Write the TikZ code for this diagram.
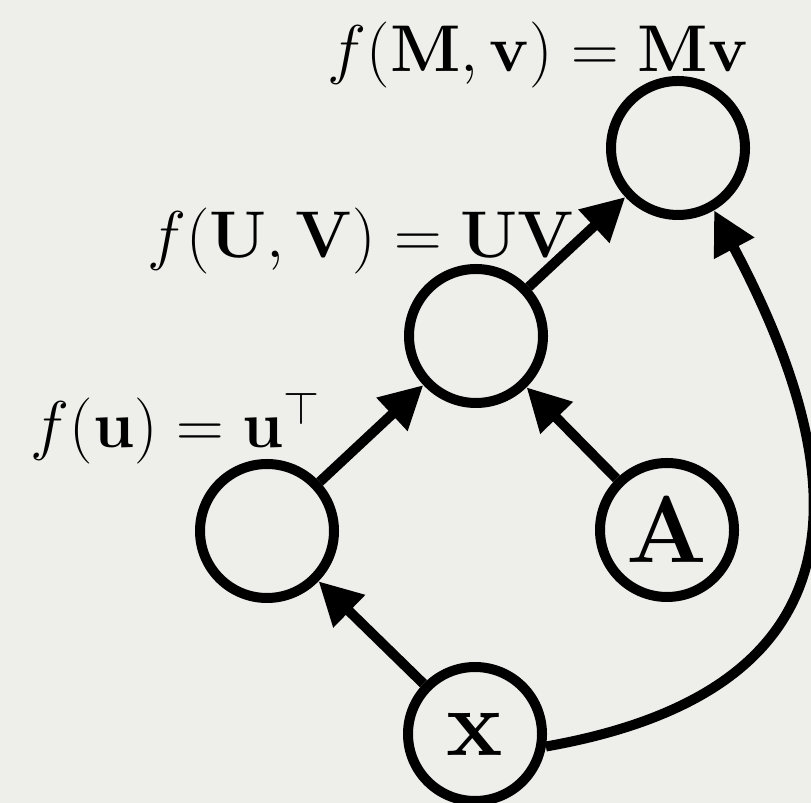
\RequirePackage{fix-cm}
\documentclass[tikz,border=0pt]{standalone}
\usepackage{amsmath,amssymb}
\usepackage{tikz}
\usetikzlibrary{arrows.meta,positioning}
\definecolor{gpaper}{HTML}{EEEEEA}
\definecolor{gink}{HTML}{000000}
\tikzset{
  nd/.style={circle, draw=gink, line width=1mm, minimum size=13.4mm, inner sep=0pt, font=\fontsize{27}{32}\selectfont},
  arr/.style={-{Triangle[length=4.3mm, width=4.3mm]}, line width=1mm, color=gink},
  lbl/.style={inner sep=0pt, anchor=base, font=\fontsize{18.8}{22}\selectfont},
}

\begin{document}
\begin{tikzpicture}[x=0.1mm, y=0.1mm]
  \fill[gpaper] (0,0) rectangle (811,-803);
  \useasboundingbox (0,0) rectangle (811,-803);
  % nodes
  \node[nd] (mv) at (678,-148) {};
  \node[nd] (uv) at (476,-336) {};
  \node[nd] (ut) at (267,-531) {};
  \node[nd] (a) at (667,-530) {$\mathbf{A}$};
  \node[nd] (x) at (475,-734) {$\mathbf{x}$};
  % labels
  \node[lbl] (lmv) at (538,-72) {$f(\mathbf{M},\mathbf{v}) = \mathbf{M}\mathbf{v}$};
  \node[lbl] (luv) at (361,-258) {$f(\mathbf{U},\mathbf{V}) = \mathbf{U}\mathbf{V}$};
  \node[lbl] (lut) at (176,-448) {$f(\mathbf{u}) = \mathbf{u}^\top$};
  % edges
  \foreach \s/\t in {x/ut, ut/uv, a/uv, uv/mv}
    \draw[arr] (\s) -- (\t);
  \draw[arr] (x.-10) to[out=10, in=-62, looseness=1.45] (mv.-60);
\end{tikzpicture}
\end{document}
